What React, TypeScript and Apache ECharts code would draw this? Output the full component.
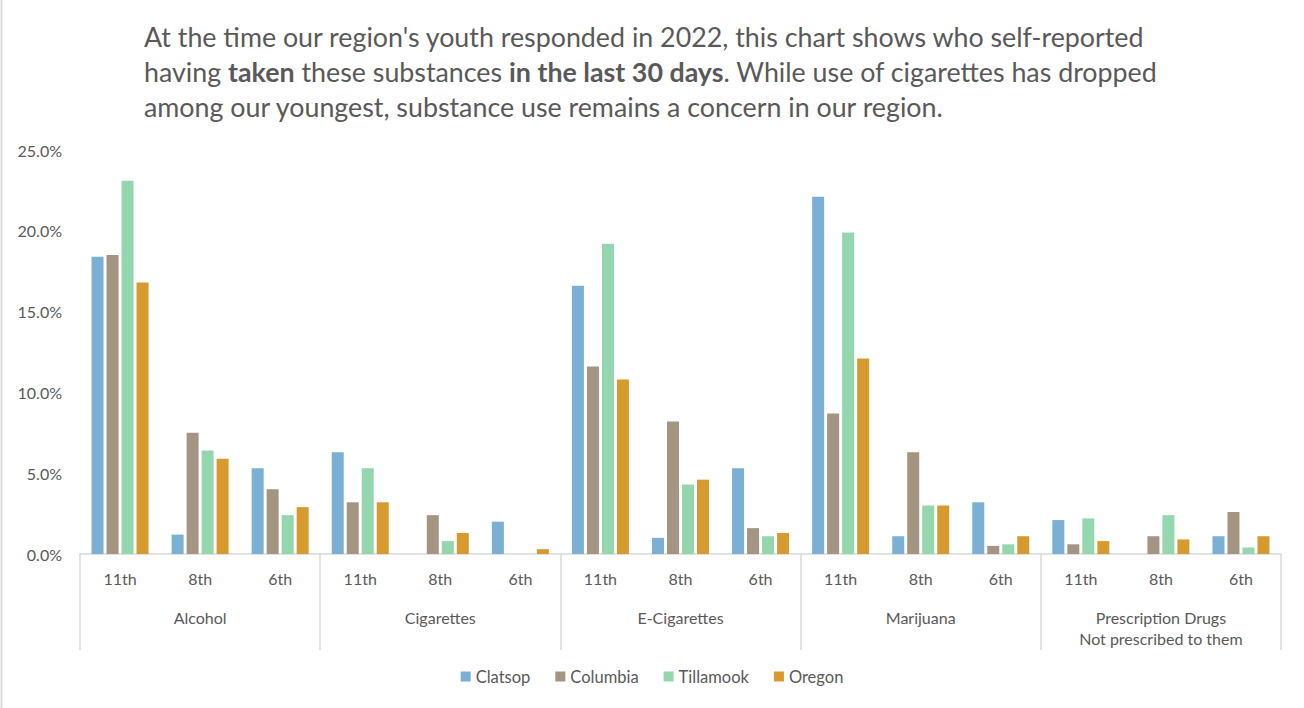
import React, { useEffect, useRef } from "react";
import * as echarts from "echarts";

const grades = ["11th", "8th", "6th"];
const substances = [
  "Alcohol",
  "Cigarettes",
  "E-Cigarettes",
  "Marijuana",
  "Prescription Drugs\nNot prescribed to them",
];
const seriesNames = ["Clatsop", "Columbia", "Tillamook", "Oregon"];
const colors = ["#7BAFD4", "#A49482", "#94D7AF", "#D79A2E"];

// order per substance: 11th, 8th, 6th
const clatsop = [18.4, 1.2, 5.3, 6.3, 0, 2.0, 16.6, 1.0, 5.3, 22.1, 1.1, 3.2, 2.1, 0, 1.1];
const columbia = [18.5, 7.5, 4.0, 3.2, 2.4, 0, 11.6, 8.2, 1.6, 8.7, 6.3, 0.5, 0.6, 1.1, 2.6];
const tillamook = [23.1, 6.4, 2.4, 5.3, 0.8, 0, 19.2, 4.3, 1.1, 19.9, 3.0, 0.6, 2.2, 2.4, 0.4];
const oregon = [16.8, 5.9, 2.9, 3.2, 1.3, 0.3, 10.8, 4.6, 1.3, 12.1, 3.0, 1.1, 0.8, 0.9, 1.1];
const seriesValues = [clatsop, columbia, tillamook, oregon];

const yTicks = { min: 0, max: 25, interval: 5 };

const FONT = "Lato, 'Open Sans', sans-serif";
const GRAY = "#595959";

export default function App() {
  const ref = useRef<HTMLDivElement>(null);

  useEffect(() => {
    if (!ref.current) return;
    const chart = echarts.init(ref.current, null, { renderer: "svg" });
    const categories: string[] = [];
    substances.forEach(() => grades.forEach((g) => categories.push(g)));

    chart.setOption({
      animation: false,
      backgroundColor: "#ffffff",
      textStyle: { fontFamily: FONT, color: GRAY },
      title: {
        left: 144,
        top: 19,
        padding: 0,
        text:
          "At the time our region's youth responded in 2022, this chart shows who self-reported\n" +
          "having {b|taken} these substances {b|in the last 30 days}. While use of cigarettes has dropped\n" +
          "among our youngest, substance use remains a concern in our region.",
        textStyle: {
          fontFamily: FONT,
          fontSize: 26.8,
          fontWeight: "normal",
          color: GRAY,
          lineHeight: 35,
          rich: {
            b: { fontFamily: FONT, fontSize: 26.8, fontWeight: "bold", color: GRAY, lineHeight: 35 },
          },
        },
      },
      legend: {
        bottom: 18,
        left: "center",
        icon: "rect",
        itemWidth: 10,
        itemHeight: 10,
        itemGap: 25,
        data: seriesNames,
        textStyle: { fontFamily: FONT, fontSize: 16.5, color: GRAY },
      },
      grid: { left: 80, right: 23, top: 150, bottom: 154 },
      xAxis: [
        {
          type: "category",
          data: categories,
          axisLine: { show: true, lineStyle: { color: "#D9D9D9", width: 1.5 } },
          axisTick: {
            show: true,
            interval: (index: number) => index % 3 === 0,
            length: 96,
            lineStyle: { color: "#D9D9D9", width: 1.5 },
          },
          axisLabel: {
            interval: 0,
            margin: 16,
            fontFamily: FONT,
            fontSize: 16,
            color: GRAY,
          },
        },
        {
          type: "category",
          data: substances,
          position: "bottom",
          axisLine: { show: false },
          axisTick: { show: false },
          axisLabel: {
            interval: 0,
            margin: 53,
            fontFamily: FONT,
            fontSize: 16,
            lineHeight: 21,
            color: GRAY,
            align: "center",
          },
        },
      ],
      yAxis: {
        type: "value",
        min: yTicks.min,
        max: yTicks.max,
        interval: yTicks.interval,
        splitLine: { show: false },
        axisLine: { show: false },
        axisTick: { show: false },
        axisLabel: {
          margin: 18,
          fontFamily: FONT,
          fontSize: 16,
          color: GRAY,
          formatter: (v: number) => v.toFixed(1) + "%",
        },
      },
      series: seriesNames.map((name, i) => ({
        name,
        type: "bar",
        xAxisIndex: 0,
        data: seriesValues[i],
        barWidth: 12,
        barGap: "25%",
        itemStyle: { color: colors[i] },
      })),
      graphic: [
        {
          type: "line",
          shape: { x1: 1.5, y1: 0, x2: 1.5, y2: 708 },
          style: { stroke: "#D9D9D9", lineWidth: 2 },
        },
      ],
    });
    return () => chart.dispose();
  }, []);

  return (
    <div
      ref={ref}
      style={{ position: "fixed", left: 0, top: 0, width: 1304, height: 708 }}
    />
  );
}
